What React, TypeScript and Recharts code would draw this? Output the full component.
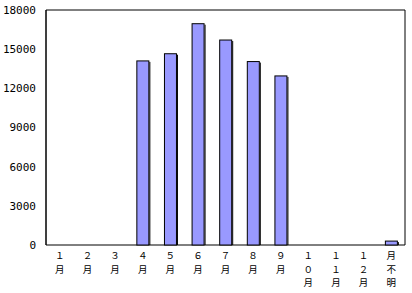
import { BarChart, Bar, XAxis, YAxis, ReferenceArea } from "recharts";

// 月別件数
const months = ["１月", "２月", "３月", "４月", "５月", "６月", "７月", "８月", "９月", "１０月", "１１月", "１２月", "月不明"];
const counts = [0, 0, 0, 14100, 14650, 16950, 15700, 14050, 12950, 0, 0, 0, 300];
const yTicks = [0, 3000, 6000, 9000, 12000, 15000, 18000];
const boundaryTicks = [1, 2, 3, 4, 5, 6, 7, 8, 9, 10, 11, 12];

const data = months.map((m, i) => ({ m, v: counts[i] }));

// 縦書きラベル (1文字ずつ改行)
const VerticalTick = (props: any) => {
  const { x, y, payload } = props;
  const chars = Array.from(String(payload.value));
  return (
    <g transform={`translate(${x},${y})`}>
      {chars.map((c, i) => (
        <text
          key={i}
          x={0}
          y={14 + i * 13.5}
          textAnchor="middle"
          fill="#000"
          fontSize={9.5}
          fontFamily='"Noto Sans CJK JP", sans-serif'
        >
          {c}
        </text>
      ))}
    </g>
  );
};

// 右側に影のある棒
const ShadowBar = (props: any) => {
  const { x, y, width, height } = props;
  if (!height || height <= 0) return null;
  return (
    <g>
      <rect x={x} y={y} width={width} height={height} fill="#9999ff" stroke="#000" strokeWidth={1} />
      <line x1={x + width + 1} y1={y + 1} x2={x + width + 1} y2={y + height} stroke="#000" strokeWidth={1} />
    </g>
  );
};

export default function App() {
  return (
    <div style={{ position: "absolute", left: 0, top: 0, background: "#fff" }}>
      <BarChart
        width={412}
        height={293}
        data={data}
        margin={{ top: 10, right: 7, left: 0, bottom: 0 }}
      >
        {/* 区切りの目盛り (内向き) */}
        <XAxis
          xAxisId="grid"
          type="number"
          domain={[0, 13]}
          ticks={boundaryTicks}
          height={1}
          axisLine={false}
          tick={false}
          tickSize={-3}
          tickLine={{ stroke: "#000" }}
        />
        <XAxis
          xAxisId="cat"
          dataKey="m"
          height={47}
          interval={0}
          tickLine={false}
          tickSize={0}
          tickMargin={0}
          axisLine={false}
          tick={<VerticalTick />}
        />
        <YAxis
          domain={[0, 18000]}
          ticks={yTicks}
          width={46}
          tickLine={false}
          tickSize={0}
          tickMargin={10}
          axisLine={{ stroke: "#000" }}
          tick={{ fill: "#000", fontSize: 11, fontFamily: '"DejaVu Sans Mono", monospace' }}
        />
        <Bar
          xAxisId="cat"
          dataKey="v"
          fill="#9999ff"
          barSize={12}
          shape={<ShadowBar />}
          isAnimationActive={false}
        />
        <ReferenceArea
          xAxisId="cat"
          y1={0}
          y2={18000}
          fill="none"
          stroke="#000"
          strokeWidth={1}
          ifOverflow="visible"
        />
      </BarChart>
    </div>
  );
}
